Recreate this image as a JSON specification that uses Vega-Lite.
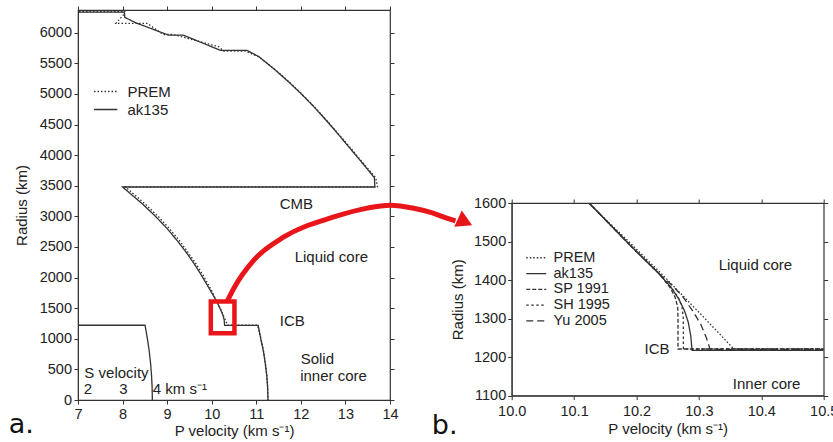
{
  "$schema": "https://vega.github.io/schema/vega-lite/v6.json",
  "padding": {"left": 8, "top": 4, "right": 0, "bottom": 0},
  "background": "white",
  "bounds": "flush",
  "spacing": 121.7,
  "resolve": {"scale": {"strokeDash": "independent"}, "legend": {"strokeDash": "independent"}},
  "config": {
    "font": "Liberation Sans",
    "view": {"stroke": "#333", "strokeWidth": 1.2},
    "axis": {"grid": false, "domainColor": "#333", "tickColor": "#333", "labelColor": "#222", "titleColor": "#222", "labelFontSize": 14.5, "titleFontSize": 15, "titleFontWeight": "normal", "tickSize": 4, "labelFlush": false, "labelOverlap": false, "labelFont": "Liberation Sans", "titleFont": "Liberation Sans"},
    "legend": {"labelFont": "Liberation Sans"}
  },
  "datasets": {
    "a_models": [
      {"model": "ak135", "i": 1, "v": 5.8, "r": 6371},
      {"model": "ak135", "i": 2, "v": 5.8, "r": 6351},
      {"model": "ak135", "i": 3, "v": 6.5, "r": 6351},
      {"model": "ak135", "i": 4, "v": 6.5, "r": 6336},
      {"model": "ak135", "i": 5, "v": 8.04, "r": 6336},
      {"model": "ak135", "i": 6, "v": 8.045, "r": 6293.5},
      {"model": "ak135", "i": 7, "v": 8.05, "r": 6251},
      {"model": "ak135", "i": 8, "v": 8.175, "r": 6206},
      {"model": "ak135", "i": 9, "v": 8.3, "r": 6161},
      {"model": "ak135", "i": 10, "v": 8.4825, "r": 6111},
      {"model": "ak135", "i": 11, "v": 8.665, "r": 6061},
      {"model": "ak135", "i": 12, "v": 8.8475, "r": 6011},
      {"model": "ak135", "i": 13, "v": 9.03, "r": 5961},
      {"model": "ak135", "i": 14, "v": 9.36, "r": 5961},
      {"model": "ak135", "i": 15, "v": 9.528, "r": 5911},
      {"model": "ak135", "i": 16, "v": 9.696, "r": 5861},
      {"model": "ak135", "i": 17, "v": 9.864, "r": 5811},
      {"model": "ak135", "i": 18, "v": 10.032, "r": 5761},
      {"model": "ak135", "i": 19, "v": 10.2, "r": 5711},
      {"model": "ak135", "i": 20, "v": 10.79, "r": 5711},
      {"model": "ak135", "i": 21, "v": 10.9229, "r": 5661},
      {"model": "ak135", "i": 22, "v": 11.0558, "r": 5611},
      {"model": "ak135", "i": 23, "v": 11.1353, "r": 5561.5},
      {"model": "ak135", "i": 24, "v": 11.2221, "r": 5512},
      {"model": "ak135", "i": 25, "v": 11.41, "r": 5400},
      {"model": "ak135", "i": 26, "v": 11.72, "r": 5200},
      {"model": "ak135", "i": 27, "v": 12.01, "r": 5000},
      {"model": "ak135", "i": 28, "v": 12.28, "r": 4800},
      {"model": "ak135", "i": 29, "v": 12.53, "r": 4600},
      {"model": "ak135", "i": 30, "v": 12.77, "r": 4400},
      {"model": "ak135", "i": 31, "v": 13.0, "r": 4200},
      {"model": "ak135", "i": 32, "v": 13.23, "r": 4000},
      {"model": "ak135", "i": 33, "v": 13.46, "r": 3800},
      {"model": "ak135", "i": 34, "v": 13.65, "r": 3631},
      {"model": "ak135", "i": 35, "v": 13.66, "r": 3479.5},
      {"model": "ak135", "i": 36, "v": 8.0, "r": 3479.5},
      {"model": "ak135", "i": 37, "v": 8.45, "r": 3200},
      {"model": "ak135", "i": 38, "v": 8.74, "r": 3000},
      {"model": "ak135", "i": 39, "v": 9.0, "r": 2800},
      {"model": "ak135", "i": 40, "v": 9.23, "r": 2600},
      {"model": "ak135", "i": 41, "v": 9.44, "r": 2400},
      {"model": "ak135", "i": 42, "v": 9.63, "r": 2200},
      {"model": "ak135", "i": 43, "v": 9.8, "r": 2000},
      {"model": "ak135", "i": 44, "v": 9.96, "r": 1800},
      {"model": "ak135", "i": 45, "v": 10.12, "r": 1600},
      {"model": "ak135", "i": 46, "v": 10.19, "r": 1490},
      {"model": "ak135", "i": 47, "v": 10.255, "r": 1382},
      {"model": "ak135", "i": 48, "v": 10.281, "r": 1300},
      {"model": "ak135", "i": 49, "v": 10.289, "r": 1217.5},
      {"model": "ak135", "i": 50, "v": 11.0427, "r": 1217.5},
      {"model": "ak135", "i": 51, "v": 11.1, "r": 1000},
      {"model": "ak135", "i": 52, "v": 11.16, "r": 800},
      {"model": "ak135", "i": 53, "v": 11.2, "r": 600},
      {"model": "ak135", "i": 54, "v": 11.235, "r": 400},
      {"model": "ak135", "i": 55, "v": 11.255, "r": 200},
      {"model": "ak135", "i": 56, "v": 11.2622, "r": 0},
      {"model": "PREM", "i": 1, "v": 5.8, "r": 6371},
      {"model": "PREM", "i": 2, "v": 5.8, "r": 6356},
      {"model": "PREM", "i": 3, "v": 6.8, "r": 6356},
      {"model": "PREM", "i": 4, "v": 6.8, "r": 6346.6},
      {"model": "PREM", "i": 5, "v": 8.05, "r": 6346.6},
      {"model": "PREM", "i": 6, "v": 8.02, "r": 6291},
      {"model": "PREM", "i": 7, "v": 7.85, "r": 6151},
      {"model": "PREM", "i": 8, "v": 8.56, "r": 6151},
      {"model": "PREM", "i": 9, "v": 8.91, "r": 5971},
      {"model": "PREM", "i": 10, "v": 9.13, "r": 5971},
      {"model": "PREM", "i": 11, "v": 10.16, "r": 5771},
      {"model": "PREM", "i": 12, "v": 10.27, "r": 5701},
      {"model": "PREM", "i": 13, "v": 10.75, "r": 5701},
      {"model": "PREM", "i": 14, "v": 11.07, "r": 5600},
      {"model": "PREM", "i": 15, "v": 11.42, "r": 5400},
      {"model": "PREM", "i": 16, "v": 11.73, "r": 5200},
      {"model": "PREM", "i": 17, "v": 12.02, "r": 5000},
      {"model": "PREM", "i": 18, "v": 12.29, "r": 4800},
      {"model": "PREM", "i": 19, "v": 12.54, "r": 4600},
      {"model": "PREM", "i": 20, "v": 12.78, "r": 4400},
      {"model": "PREM", "i": 21, "v": 13.02, "r": 4200},
      {"model": "PREM", "i": 22, "v": 13.25, "r": 4000},
      {"model": "PREM", "i": 23, "v": 13.48, "r": 3800},
      {"model": "PREM", "i": 24, "v": 13.68, "r": 3630},
      {"model": "PREM", "i": 25, "v": 13.72, "r": 3480},
      {"model": "PREM", "i": 26, "v": 8.065, "r": 3480},
      {"model": "PREM", "i": 27, "v": 8.51, "r": 3200},
      {"model": "PREM", "i": 28, "v": 8.8, "r": 3000},
      {"model": "PREM", "i": 29, "v": 9.05, "r": 2800},
      {"model": "PREM", "i": 30, "v": 9.28, "r": 2600},
      {"model": "PREM", "i": 31, "v": 9.48, "r": 2400},
      {"model": "PREM", "i": 32, "v": 9.67, "r": 2200},
      {"model": "PREM", "i": 33, "v": 9.835, "r": 2000},
      {"model": "PREM", "i": 34, "v": 9.99, "r": 1800},
      {"model": "PREM", "i": 35, "v": 10.12, "r": 1600},
      {"model": "PREM", "i": 36, "v": 10.19, "r": 1500},
      {"model": "PREM", "i": 37, "v": 10.25, "r": 1400},
      {"model": "PREM", "i": 38, "v": 10.31, "r": 1300},
      {"model": "PREM", "i": 39, "v": 10.356, "r": 1221.5},
      {"model": "PREM", "i": 40, "v": 11.028, "r": 1221.5},
      {"model": "PREM", "i": 41, "v": 11.105, "r": 1000},
      {"model": "PREM", "i": 42, "v": 11.162, "r": 800},
      {"model": "PREM", "i": 43, "v": 11.206, "r": 600},
      {"model": "PREM", "i": 44, "v": 11.237, "r": 400},
      {"model": "PREM", "i": 45, "v": 11.256, "r": 200},
      {"model": "PREM", "i": 46, "v": 11.262, "r": 0}
    ],
    "a_s": [
      {"i": 1, "v": 5.0, "r": 1221.5},
      {"i": 2, "v": 8.504, "r": 1221.5},
      {"i": 3, "v": 8.558, "r": 1000},
      {"i": 4, "v": 8.598, "r": 800},
      {"i": 5, "v": 8.628, "r": 600},
      {"i": 6, "v": 8.65, "r": 400},
      {"i": 7, "v": 8.663, "r": 200},
      {"i": 8, "v": 8.668, "r": 0}
    ],
    "a_text": [
      {"txt": "CMB", "v": 11.9, "r": 3194},
      {"txt": "Liquid core", "v": 12.684, "r": 2328},
      {"txt": "ICB", "v": 11.807, "r": 1291},
      {"txt": "Solid", "v": 12.37, "r": 665},
      {"txt": "inner core", "v": 12.733, "r": 392},
      {"txt": "S velocity", "v": 7.863, "r": 446},
      {"txt": "2", "v": 7.224, "r": 185},
      {"txt": "3", "v": 8.018, "r": 185},
      {"txt": "4 km s⁻¹", "v": 9.287, "r": 185}
    ],
    "arrow": [
      {"i": 1, "v": 10.35, "r": 1618},
      {"i": 2, "v": 10.5, "r": 1830},
      {"i": 3, "v": 10.95, "r": 2288},
      {"i": 4, "v": 11.62, "r": 2663},
      {"i": 5, "v": 12.74, "r": 2990},
      {"i": 6, "v": 13.49, "r": 3135},
      {"i": 7, "v": 14.01, "r": 3181},
      {"i": 8, "v": 14.53, "r": 3132},
      {"i": 9, "v": 14.95, "r": 3056},
      {"i": 10, "v": 15.29, "r": 2966},
      {"i": 11, "v": 15.47, "r": 2925}
    ],
    "b_models": [
      {"model": "PREM", "i": 1, "v": 10.123, "r": 1600},
      {"model": "PREM", "i": 2, "v": 10.1875, "r": 1500},
      {"model": "PREM", "i": 3, "v": 10.25, "r": 1400},
      {"model": "PREM", "i": 4, "v": 10.3097, "r": 1300},
      {"model": "PREM", "i": 5, "v": 10.339, "r": 1250},
      {"model": "PREM", "i": 6, "v": 10.3556, "r": 1221.5},
      {"model": "PREM", "i": 7, "v": 10.5, "r": 1221.5},
      {"model": "ak135", "i": 1, "v": 10.124, "r": 1600},
      {"model": "ak135", "i": 2, "v": 10.16, "r": 1540},
      {"model": "ak135", "i": 3, "v": 10.19, "r": 1490},
      {"model": "ak135", "i": 4, "v": 10.215, "r": 1450},
      {"model": "ak135", "i": 5, "v": 10.237, "r": 1415},
      {"model": "ak135", "i": 6, "v": 10.255, "r": 1382},
      {"model": "ak135", "i": 7, "v": 10.268, "r": 1350},
      {"model": "ak135", "i": 8, "v": 10.277, "r": 1320},
      {"model": "ak135", "i": 9, "v": 10.283, "r": 1290},
      {"model": "ak135", "i": 10, "v": 10.287, "r": 1255},
      {"model": "ak135", "i": 11, "v": 10.289, "r": 1217.5},
      {"model": "ak135", "i": 12, "v": 10.5, "r": 1217.5},
      {"model": "SP 1991", "i": 1, "v": 10.124, "r": 1600},
      {"model": "SP 1991", "i": 2, "v": 10.19, "r": 1490},
      {"model": "SP 1991", "i": 3, "v": 10.237, "r": 1415},
      {"model": "SP 1991", "i": 4, "v": 10.254, "r": 1380},
      {"model": "SP 1991", "i": 5, "v": 10.262, "r": 1355},
      {"model": "SP 1991", "i": 6, "v": 10.266, "r": 1330},
      {"model": "SP 1991", "i": 7, "v": 10.2665, "r": 1300},
      {"model": "SP 1991", "i": 8, "v": 10.2665, "r": 1221},
      {"model": "SP 1991", "i": 9, "v": 10.5, "r": 1221},
      {"model": "SH 1995", "i": 1, "v": 10.124, "r": 1600},
      {"model": "SH 1995", "i": 2, "v": 10.19, "r": 1490},
      {"model": "SH 1995", "i": 3, "v": 10.237, "r": 1415},
      {"model": "SH 1995", "i": 4, "v": 10.256, "r": 1380},
      {"model": "SH 1995", "i": 5, "v": 10.267, "r": 1355},
      {"model": "SH 1995", "i": 6, "v": 10.273, "r": 1330},
      {"model": "SH 1995", "i": 7, "v": 10.275, "r": 1300},
      {"model": "SH 1995", "i": 8, "v": 10.2752, "r": 1221},
      {"model": "SH 1995", "i": 9, "v": 10.5, "r": 1221},
      {"model": "Yu 2005", "i": 1, "v": 10.124, "r": 1600},
      {"model": "Yu 2005", "i": 2, "v": 10.19, "r": 1490},
      {"model": "Yu 2005", "i": 3, "v": 10.237, "r": 1415},
      {"model": "Yu 2005", "i": 4, "v": 10.258, "r": 1385},
      {"model": "Yu 2005", "i": 5, "v": 10.275, "r": 1355},
      {"model": "Yu 2005", "i": 6, "v": 10.29, "r": 1320},
      {"model": "Yu 2005", "i": 7, "v": 10.303, "r": 1285},
      {"model": "Yu 2005", "i": 8, "v": 10.312, "r": 1250},
      {"model": "Yu 2005", "i": 9, "v": 10.318, "r": 1220},
      {"model": "Yu 2005", "i": 10, "v": 10.5, "r": 1220}
    ],
    "b_text": [
      {"txt": "Liquid core", "v": 10.3905, "r": 1437.8},
      {"txt": "ICB", "v": 10.2329, "r": 1220.6},
      {"txt": "Inner core", "v": 10.4084, "r": 1129.4}
    ]
  },
  "hconcat": [
    {
      "width": 312,
      "height": 390,
      "resolve": {"axis": {"x": "independent", "y": "independent"}},
      "layer": [
        {
          "data": {"name": "a_models"},
          "mark": {"type": "line", "clip": true, "color": "#333", "strokeWidth": 1.3},
          "encoding": {
            "x": {"field": "v", "type": "quantitative", "scale": {"domain": [7, 14], "nice": false, "zero": false},
                  "axis": {"values": [7, 8, 9, 10, 11, 12, 13, 14], "format": "d", "title": "P velocity (km s⁻¹)", "labelPadding": 3.5, "titlePadding": 2.5}},
            "y": {"field": "r", "type": "quantitative", "scale": {"domain": [0, 6371], "nice": false, "zero": false},
                  "axis": {"values": [0, 500, 1000, 1500, 2000, 2500, 3000, 3500, 4000, 4500, 5000, 5500, 6000], "format": "d", "title": "Radius (km)", "labelPadding": 2.5, "titlePadding": 10}},
            "order": {"field": "i", "type": "quantitative"},
            "strokeDash": {"field": "model", "type": "nominal",
                           "scale": {"domain": ["PREM", "ak135"], "range": [[1.5, 2], [1, 0]]},
                           "legend": {"orient": "none", "legendX": 20.2, "legendY": 74, "title": null, "padding": 0,
                                      "symbolType": "M-2,0L2,0", "symbolSize": 136, "symbolStrokeColor": "#333", "symbolStrokeWidth": 1.3,
                                      "labelOffset": 14.2, "labelFontSize": 15, "labelColor": "#222", "rowPadding": 2}}
          }
        },
        {
          "data": {"name": "a_s"},
          "mark": {"type": "line", "clip": true, "color": "#333", "strokeWidth": 1.3},
          "encoding": {
            "x": {"field": "v", "type": "quantitative", "axis": null},
            "y": {"field": "r", "type": "quantitative", "axis": null},
            "order": {"field": "i", "type": "quantitative"}
          }
        },
        {
          "data": {"name": "a_text"},
          "mark": {"type": "text", "fontSize": 15, "align": "center", "baseline": "middle", "color": "#222"},
          "encoding": {
            "x": {"field": "v", "type": "quantitative", "axis": {"orient": "top", "labels": false, "title": null, "domain": false, "values": [7, 8, 9, 10, 11, 12, 13, 14]}},
            "y": {"field": "r", "type": "quantitative", "axis": {"orient": "right", "labels": false, "title": null, "domain": false, "values": [0, 500, 1000, 1500, 2000, 2500, 3000, 3500, 4000, 4500, 5000, 5500, 6000]}},
            "text": {"field": "txt", "type": "nominal"}
          }
        },
        {
          "data": {"values": [{"txt": "a.", "v": 5.726, "r": -539}]},
          "mark": {"type": "text", "font": "DejaVu Sans", "fontSize": 27, "align": "center", "baseline": "alphabetic", "color": "#111"},
          "encoding": {
            "x": {"field": "v", "type": "quantitative", "axis": null},
            "y": {"field": "r", "type": "quantitative", "axis": null},
            "text": {"field": "txt", "type": "nominal"}
          }
        },
        {
          "data": {"values": [{"x1": 9.98, "x2": 10.51, "r1": 1090, "r2": 1610}]},
          "mark": {"type": "rect", "fillOpacity": 0, "stroke": "#e8161b", "strokeWidth": 4.5, "clip": false},
          "encoding": {
            "x": {"field": "x1", "type": "quantitative", "axis": null},
            "x2": {"field": "x2"},
            "y": {"field": "r1", "type": "quantitative", "axis": null},
            "y2": {"field": "r2"}
          }
        },
        {
          "data": {"name": "arrow"},
          "mark": {"type": "line", "interpolate": "monotone", "color": "#e8161b", "strokeWidth": 5, "clip": false},
          "encoding": {
            "x": {"field": "v", "type": "quantitative", "axis": null},
            "y": {"field": "r", "type": "quantitative", "axis": null},
            "order": {"field": "i", "type": "quantitative"}
          }
        },
        {
          "data": {"values": [{"v": 15.684, "r": 2908}]},
          "mark": {"type": "point", "shape": "triangle-right", "size": 324, "angle": 25, "filled": true, "opacity": 1, "color": "#e8161b", "clip": false},
          "encoding": {
            "x": {"field": "v", "type": "quantitative", "axis": null},
            "y": {"field": "r", "type": "quantitative", "axis": null}
          }
        }
      ]
    },
    {
      "bounds": "flush",
      "spacing": 0,
      "resolve": {"scale": {"strokeDash": "independent"}, "legend": {"strokeDash": "independent"}},
      "vconcat": [
        {
          "width": 312,
          "height": 192.7,
          "view": {"stroke": null},
          "data": {"values": [{}]},
          "mark": {"type": "point", "opacity": 0}
        },
        {
          "width": 312,
          "height": 192.6,
          "resolve": {"axis": {"x": "independent", "y": "independent"}},
          "layer": [
            {
              "data": {"name": "b_models"},
              "mark": {"type": "line", "clip": true, "color": "#333", "strokeWidth": 1.3},
              "encoding": {
                "x": {"field": "v", "type": "quantitative", "scale": {"domain": [10, 10.5], "nice": false, "zero": false},
                      "axis": {"values": [10, 10.1, 10.2, 10.3, 10.4, 10.5], "format": ".1f", "title": "P velocity (km s⁻¹)", "labelPadding": 5, "titlePadding": 3.8}},
                "y": {"field": "r", "type": "quantitative", "scale": {"domain": [1100, 1600], "nice": false, "zero": false},
                      "axis": {"values": [1100, 1200, 1300, 1400, 1500, 1600], "format": "d", "title": "Radius (km)", "labelPadding": 2, "titlePadding": 8}},
                "order": {"field": "i", "type": "quantitative"},
                "strokeDash": {"field": "model", "type": "nominal",
                               "scale": {"domain": ["PREM", "ak135", "SP 1991", "SH 1995", "Yu 2005"], "range": [[1.5, 2], [1, 0], [4, 2], [2.5, 2.5], [7, 4]]},
                               "legend": {"orient": "none", "legendX": 17.3, "legendY": 47.5, "title": null, "padding": 0,
                                          "symbolType": "M-2,0L2,0", "symbolSize": 100, "symbolStrokeColor": "#333", "symbolStrokeWidth": 1.3,
                                          "labelOffset": 10, "labelFontSize": 14.5, "labelColor": "#222", "rowPadding": 0.8}}
              }
            },
            {
              "data": {"name": "b_text"},
              "mark": {"type": "text", "fontSize": 15, "align": "center", "baseline": "middle", "color": "#222"},
              "encoding": {
                "x": {"field": "v", "type": "quantitative", "axis": {"orient": "top", "labels": false, "title": null, "domain": false, "values": [10, 10.1, 10.2, 10.3, 10.4, 10.5]}},
                "y": {"field": "r", "type": "quantitative", "axis": {"orient": "right", "labels": false, "title": null, "domain": false, "values": [1100, 1200, 1300, 1400, 1500, 1600]}},
                "text": {"field": "txt", "type": "nominal"}
              }
            },
            {
              "data": {"values": [{"txt": "b.", "v": 9.8926, "r": 1001}]},
              "mark": {"type": "text", "font": "DejaVu Sans", "fontSize": 27, "align": "center", "baseline": "alphabetic", "color": "#111"},
              "encoding": {
                "x": {"field": "v", "type": "quantitative", "axis": null},
                "y": {"field": "r", "type": "quantitative", "axis": null},
                "text": {"field": "txt", "type": "nominal"}
              }
            }
          ]
        }
      ]
    }
  ]
}
